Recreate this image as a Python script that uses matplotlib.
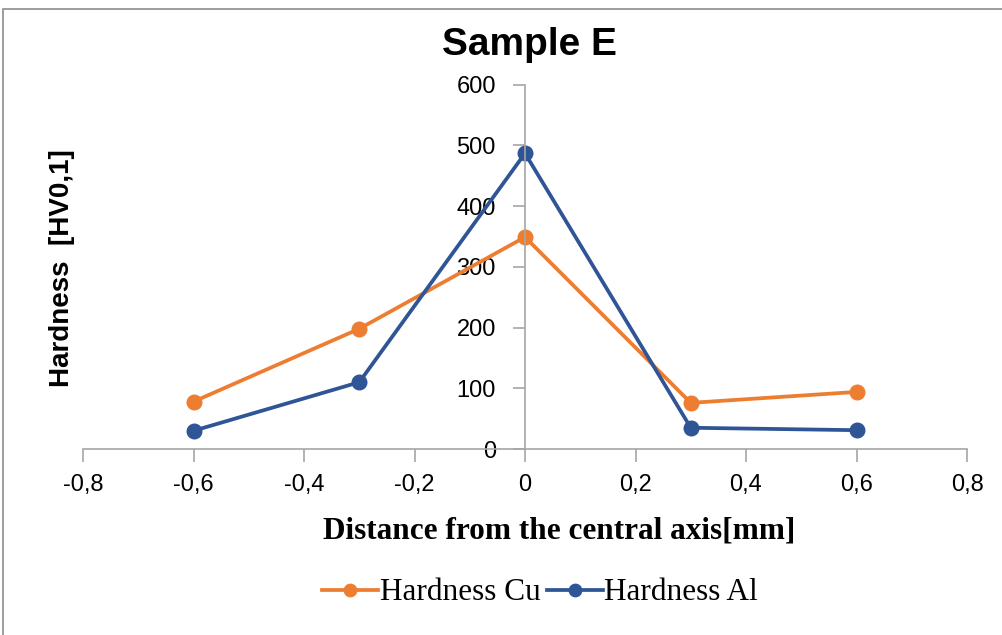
import matplotlib
matplotlib.use("Agg")
import matplotlib.pyplot as plt
from matplotlib.patches import Rectangle

# hardness profile across the joint, Sample E
distance_mm = [-0.6, -0.3, 0.0, 0.3, 0.6]
hardness_cu = [78, 198, 349, 76, 94]
hardness_al = [30, 110, 487, 35, 31]

x_ticks = [-0.8, -0.6, -0.4, -0.2, 0.0, 0.2, 0.4, 0.6, 0.8]
y_ticks = [0, 100, 200, 300, 400, 500, 600]

C_CU = "#ED7D31"
C_AL = "#2F5597"
GRID = "#A6A6A6"
SANS = "Liberation Sans"
SERIF = "Liberation Serif"

fig = plt.figure(figsize=(10.02, 6.35), dpi=100)
# outer chart frame
fig.patches.append(Rectangle((3 / 1002, -0.05), 1.1, 1 - 9 / 635 + 0.05,
                             transform=fig.transFigure, fill=False,
                             edgecolor="#8c8c8c", lw=1.2))

ax = fig.add_axes([83 / 1002, 1 - 449 / 635, 884 / 1002, (449 - 84.7) / 635])
ax.plot(distance_mm, hardness_cu, color=C_CU, lw=2.7, marker="o", ms=10.5,
        label="Hardness Cu")
ax.plot(distance_mm, hardness_al, color=C_AL, lw=2.7, marker="o", ms=10.5,
        label="Hardness Al")

ax.set_xlim(-0.8, 0.8)
ax.set_ylim(0, 600)
ax.spines["left"].set_position(("data", 0))
ax.spines["right"].set_visible(False)
ax.spines["top"].set_visible(False)
for s in ("left", "bottom"):
    ax.spines[s].set_color(GRID)
    ax.spines[s].set_linewidth(1.2)
ax.set_xticks(x_ticks)
ax.set_xticklabels([f"{v:.1f}".replace(".", ",") if v != 0 else "0"
                    for v in x_ticks])
ax.set_yticks(y_ticks)
ax.tick_params(axis="both", colors=GRID, labelcolor="black", width=1.2,
               length=9, labelsize=17)
ax.tick_params(axis="x", pad=9)
ax.tick_params(axis="y", pad=12)
for lab in ax.get_xticklabels() + ax.get_yticklabels():
    lab.set_family(SANS)

fig.text(530 / 1002, 1 - 45 / 635, "Sample E", ha="center", va="center",
         fontsize=28, fontweight="bold", family=SANS)
fig.text(62 / 1002, 1 - 268 / 635, "Hardness  [HV0,1]", ha="center",
         va="center", rotation=90, fontsize=20, fontweight="bold", family=SANS)
fig.text(559 / 1002, 1 - 531 / 635, "Distance from the central axis[mm]",
         ha="center", va="center", fontsize=22.5, fontweight="bold", family=SERIF)

ax.legend(loc="center", bbox_to_anchor=(540 / 1002, 1 - 593 / 635),
          bbox_transform=fig.transFigure, ncol=2, frameon=False,
          prop={"family": SERIF, "size": 22.5}, handlelength=1.8,
          handletextpad=0.05, columnspacing=0.2, markerscale=0.85)

fig.savefig("out.png", dpi=100)
